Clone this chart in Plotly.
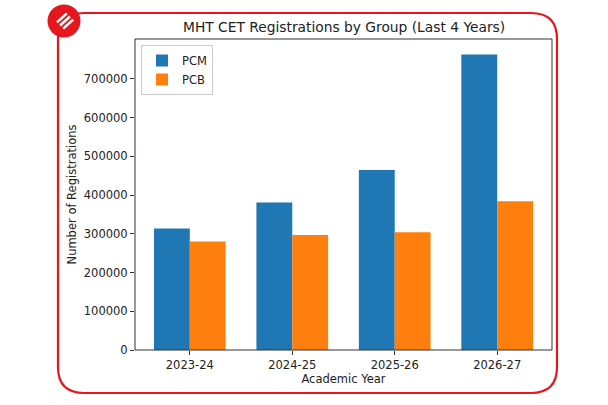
import plotly.graph_objects as go

years = ["2023-24", "2024-25", "2025-26", "2026-27"]
pcm = [314000, 381000, 465000, 763000]
pcb = [280000, 297000, 304000, 384000]

W, H = 608, 405
L, R, T, B = 135, 552, 39, 350  # plot area in pixels


def px(x):
    return (x - L) / (R - L)


def py(y):
    return (B - y) / (B - T)


FONT = "DejaVu Sans"
RED = "#e5161d"

fig = go.Figure()
fig.add_trace(go.Bar(name="PCM", x=years, y=pcm, marker=dict(color="#1f77b4", line=dict(width=0))))
fig.add_trace(go.Bar(name="PCB", x=years, y=pcb, marker=dict(color="#ff7f0e", line=dict(width=0))))

shapes = []
# red rounded frame
x0, x1, y0, y1, r = 58, 557, 13, 393, 26
path = (
    f"M{px(x0 + r)},{py(y0)} L{px(x1 - r)},{py(y0)} "
    f"Q{px(x1)},{py(y0)} {px(x1)},{py(y0 + r)} "
    f"L{px(x1)},{py(y1 - r)} Q{px(x1)},{py(y1)} {px(x1 - r)},{py(y1)} "
    f"L{px(x0 + r)},{py(y1)} Q{px(x0)},{py(y1)} {px(x0)},{py(y1 - r)} "
    f"L{px(x0)},{py(y0 + r)} Q{px(x0)},{py(y0)} {px(x0 + r)},{py(y0)} Z"
)
shapes.append(dict(type="path", xref="paper", yref="paper", path=path,
                   line=dict(color=RED, width=2.2), fillcolor="rgba(0,0,0,0)", layer="below"))
# logo circle
cx, cy, rr = 64, 21, 16.5
shapes.append(dict(type="circle", xref="paper", yref="paper",
                   x0=px(cx - rr), x1=px(cx + rr), y0=py(cy + rr), y1=py(cy - rr),
                   fillcolor=RED, line=dict(color=RED, width=0)))
# logo stripes
for d in (-4.5, 0, 4.5):
    ox, oy = cx + 1 + d * 0.7, cy + d * 0.7
    shapes.append(dict(type="line", xref="paper", yref="paper",
                       x0=px(ox - 5), y0=py(oy + 4.5), x1=px(ox + 5), y1=py(oy - 4.5),
                       line=dict(color="white", width=2.6)))
# axes box
shapes.append(dict(type="rect", xref="paper", yref="paper", x0=0, x1=1, y0=0, y1=1,
                   line=dict(color="#333333", width=1), fillcolor="rgba(0,0,0,0)"))

fig.update_layout(
    width=W, height=H,
    margin=dict(l=L, r=W - R, t=T, b=H - B),
    paper_bgcolor="white", plot_bgcolor="white",
    barmode="group", bargap=0.3, bargroupgap=0,
    font=dict(family=FONT, size=11.5, color="#222222"),
    shapes=shapes,
    annotations=[dict(text="MHT CET Registrations by Group (Last 4 Years)", xref="paper", yref="paper",
                      x=0.5, y=py(27), xanchor="center", yanchor="middle", showarrow=False,
                      font=dict(family=FONT, size=13.8, color="#222222"))],
    legend=dict(x=px(141), y=py(45), xanchor="left", yanchor="top",
                bgcolor="rgba(255,255,255,0.8)", bordercolor="#cccccc", borderwidth=1,
                font=dict(family=FONT, size=11.5, color="#222222"), itemwidth=30,
                tracegroupgap=2),
    xaxis=dict(range=[-0.535, 3.535], showgrid=False, zeroline=False, showline=False,
               ticks="outside", ticklen=4, tickcolor="#333333", tickwidth=1,
               title=dict(text="Academic Year", font=dict(family=FONT, size=11.5), standoff=4)),
    yaxis=dict(range=[0, 803000], showgrid=False, zeroline=False, showline=False,
               tickmode="array", tickvals=[0, 100000, 200000, 300000, 400000, 500000, 600000, 700000],
               ticktext=["0", "100000", "200000", "300000", "400000", "500000", "600000", "700000"],
               ticks="outside", ticklen=4, tickcolor="#333333", tickwidth=1,
               title=dict(text="Number of Registrations", font=dict(family=FONT, size=11.5), standoff=4)),
)

fig.write_html("out.html", config={"displayModeBar": False},
               post_script="document.body.style.margin='0';")
